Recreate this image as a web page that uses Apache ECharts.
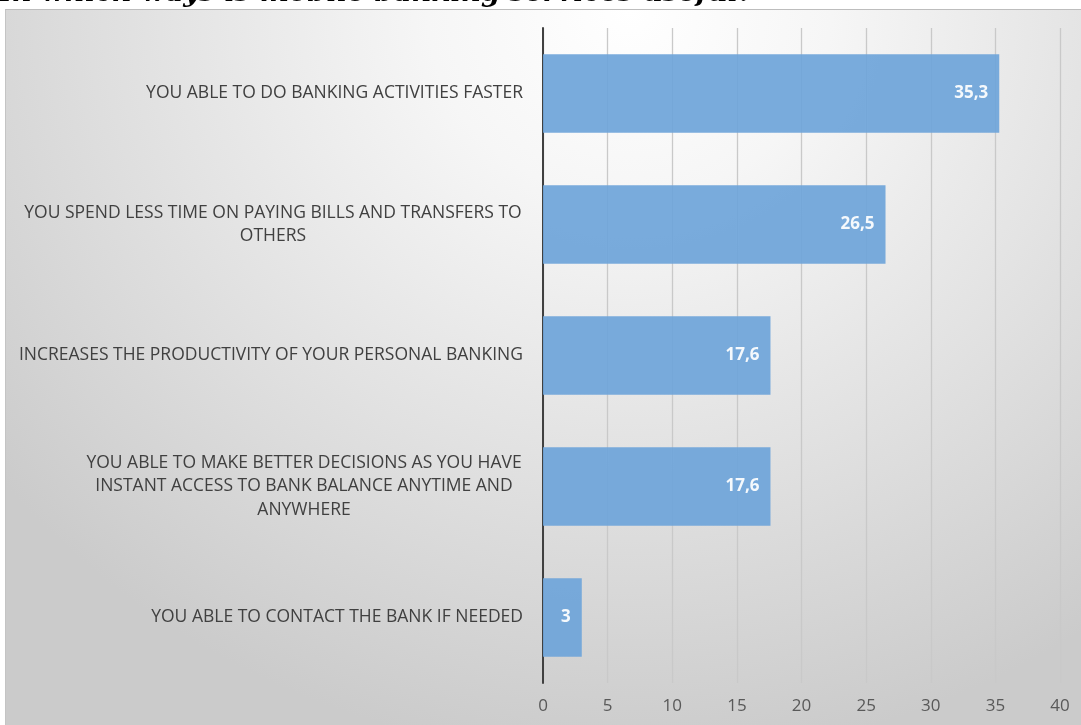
<!DOCTYPE html>
<html>
<head>
<meta charset="utf-8">
<title>Mobile banking usefulness</title>
<script src="https://cdn.jsdelivr.net/npm/echarts@6/dist/echarts.min.js"></script>
<style>
  html, body { margin: 0; padding: 0; background: #ffffff; }
  #wrap { position: relative; width: 1081px; height: 725px; overflow: hidden; }
  #panel {
    position: absolute; left: 5px; top: 9px; right: 0; bottom: 0;
    border-top: 1px solid #bdbdbd; border-left: 1px solid #c4c4c4;
    background: radial-gradient(ellipse 75% 105% at 58% 0%, #ffffff 0%, #f6f6f6 25%, #e2e2e2 60%, #cbcbcb 100%);
  }
  #chart { position: absolute; left: 0; top: 0; width: 1081px; height: 725px; }
</style>
</head>
<body>
<div id="wrap">
  <div id="panel"></div>
  <div id="chart"></div>
</div>
<script>
// Survey answers and their shares (%)
const titleText = 'In which ways is mobile banking services useful?';
const categories = [
  'YOU ABLE TO DO BANKING ACTIVITIES FASTER',
  'YOU SPEND LESS TIME ON PAYING BILLS AND TRANSFERS TO OTHERS',
  'INCREASES THE PRODUCTIVITY OF YOUR PERSONAL BANKING',
  'YOU ABLE TO MAKE BETTER DECISIONS AS YOU HAVE INSTANT ACCESS TO BANK BALANCE ANYTIME AND ANYWHERE',
  'YOU ABLE TO CONTACT THE BANK IF NEEDED'
];
const values = [35.3, 26.5, 17.6, 17.6, 3];
const axisTicks = [0, 5, 10, 15, 20, 25, 30, 35, 40];

const labelSize = 17.5;
const labelFont = labelSize + 'px "Open Sans"';
const wrapWidth = 508;

// word-wrap a category label to the label column width
const ctx = document.createElement('canvas').getContext('2d');
ctx.font = labelFont;
function wrapLines(text) {
  const words = text.split(' ');
  const lines = [];
  let cur = '';
  words.forEach(w => {
    const t = cur ? cur + ' ' + w : w;
    if (ctx.measureText(t).width > wrapWidth && cur) {
      lines.push(cur);
      cur = w;
    } else {
      cur = t;
    }
  });
  if (cur) lines.push(cur);
  return lines;
}

// multi-line labels: lines centred inside a block that sits right-aligned
const wrapped = categories.map(wrapLines);
const rich = {};
wrapped.forEach((lines, i) => {
  const w = Math.max(...lines.map(l => ctx.measureText(l).width));
  rich['c' + i] = { width: Math.ceil(w) + 2, align: 'center', fontSize: labelSize, fontFamily: 'Open Sans', color: '#404040', lineHeight: 23.5 };
});

const chart = echarts.init(document.getElementById('chart'), null, { renderer: 'canvas' });
chart.setOption({
  animation: false,
  backgroundColor: 'transparent',
  graphic: [{
    type: 'text',
    left: -1,
    top: -20,
    style: {
      text: titleText,
      fontFamily: 'DejaVu Serif',
      fontStyle: 'italic',
      fontWeight: 'bold',
      fontSize: 27.5,
      fill: '#000000'
    },
    z: 10
  }],
  grid: { left: 543, right: 21, top: 28, bottom: 42, containLabel: false },
  xAxis: {
    type: 'value',
    min: axisTicks[0],
    max: axisTicks[axisTicks.length - 1],
    interval: axisTicks[1] - axisTicks[0],
    axisLine: { show: false },
    axisTick: { show: false },
    axisLabel: { color: '#595959', fontSize: 17, fontFamily: 'Open Sans', margin: 15 },
    splitLine: { show: true, lineStyle: { color: '#c9c9c9', width: 1.3 } }
  },
  yAxis: {
    type: 'category',
    inverse: true,
    data: categories,
    axisLine: { show: true, lineStyle: { color: '#404040', width: 2 } },
    axisTick: { show: false },
    axisLabel: {
      color: '#404040',
      fontSize: labelSize,
      fontFamily: 'Open Sans',
      margin: 20,
      lineHeight: 23.5,
      align: 'right',
      formatter: (value) => {
        const i = categories.indexOf(value);
        const lines = wrapped[i];
        if (lines.length === 1) return lines[0];
        return lines.map(l => '{c' + i + '|' + l + '}').join('\n');
      },
      rich: rich
    }
  },
  series: [{
    type: 'bar',
    data: values,
    barCategoryGap: '40%',
    itemStyle: { color: '#6fa5d9', opacity: 0.93 },
    label: {
      show: true,
      position: 'insideRight',
      distance: 11,
      color: '#ffffff',
      fontWeight: 'bold',
      fontSize: 17,
      fontFamily: 'Open Sans',
      formatter: p => String(p.value).replace('.', ',')
    }
  }]
});
</script>
</body>
</html>
